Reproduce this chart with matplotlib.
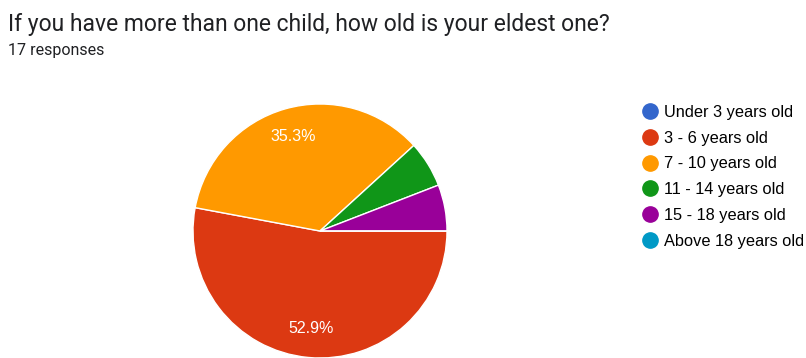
import matplotlib.pyplot as plt
from matplotlib.lines import Line2D

# Survey data
labels = ['Under 3 years old', '3 - 6 years old', '7 - 10 years old',
          '11 - 14 years old', '15 - 18 years old', 'Above 18 years old']
counts = [0, 9, 6, 1, 1, 0]
colors = ['#3366cc', '#dc3912', '#ff9900', '#109618', '#990099', '#0099c6']
title = 'If you have more than one child, how old is your eldest one?'
subtitle = '17 responses'

W, H = 806, 358
fig = plt.figure(figsize=(W / 100, H / 100), dpi=100)

# pie centre (320, 231) px, radius 127 px
cx, cy, r = 320, 231, 127
ax = fig.add_axes([(cx - r) / W, (H - cy - r) / H, 2 * r / W, 2 * r / H])

def pct(p):
    return '%.1f%%' % p if p > 10 else ''

wedges, texts, autotexts = ax.pie(
    counts, colors=colors, startangle=0, counterclock=False,
    autopct=pct, pctdistance=0.77,
    wedgeprops=dict(edgecolor='white', linewidth=1),
    textprops=dict(color='white', fontsize=11.5, family='Liberation Sans'))
ax.set_xlim(-1, 1)
ax.set_ylim(-1, 1)
ax.set_aspect('equal')

fig.text(8 / W, 1 - 31 / H, title, fontsize=16.5, family='Roboto', color='#202124')
fig.text(8 / W, 1 - 55 / H, subtitle, fontsize=11.5, family='Roboto', color='#202124')

handles = [Line2D([], [], marker='o', linestyle='', markersize=11,
                  markerfacecolor=c, markeredgecolor=c) for c in colors]
fig.legend(handles, labels, loc='upper left', bbox_to_anchor=(625 / W, 1 - 90 / H),
           frameon=False, handletextpad=0.15, labelspacing=0.66,
           prop=dict(family='Liberation Sans', size=11.8), handlelength=1.3)

fig.savefig('out.png', dpi=100)
